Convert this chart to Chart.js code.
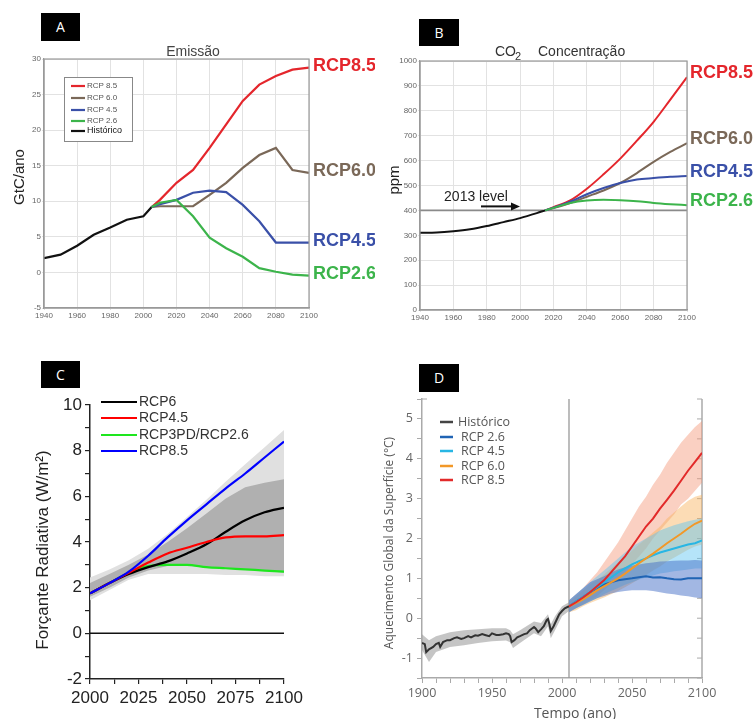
<!DOCTYPE html>
<html>
<head>
<meta charset="utf-8">
<script src="https://cdn.jsdelivr.net/npm/chart.js@4.4.1/dist/chart.umd.min.js"></script>
<style>
body { margin: 0; background: #fff; width: 755px; height: 719px; overflow: hidden; position: relative; }
canvas { position: absolute; }
.tag { position: absolute; background: #000; color: #fff; font: 14px "Open Sans", sans-serif; text-align: center; }
</style>
</head>
<body>
<canvas id="cA" width="375" height="330" style="left:0;top:0"></canvas>
<canvas id="cB" width="380" height="330" style="left:375px;top:0"></canvas>
<canvas id="cC" width="375" height="389" style="left:0;top:330px"></canvas>
<canvas id="cD" width="380" height="389" style="left:375px;top:330px"></canvas>
<div class="tag" style="left:41px;top:13px;width:39px;height:28px;line-height:28px">A</div>
<div class="tag" style="left:419px;top:19px;width:40px;height:27px;line-height:27px">B</div>
<div class="tag" style="left:41px;top:361px;width:39px;height:27px;line-height:27px">C</div>
<div class="tag" style="left:419px;top:364px;width:40px;height:28px;line-height:28px">D</div>
<script>
// ---- A: emissao (GtC/ano)
const histYearsA = [1940, 1950, 1960, 1970, 1980, 1990, 2000, 2005];
const histA = [2.0, 2.5, 3.75, 5.3, 6.3, 7.4, 7.9, 9.2];
const futYearsA = [2005, 2010, 2020, 2030, 2040, 2050, 2060, 2070, 2080, 2090, 2100];
const rcp85A = [9.2, 10.2, 12.6, 14.4, 17.5, 20.8, 24.1, 26.4, 27.6, 28.5, 28.8];
const rcp60A = [9.2, 9.3, 9.3, 9.3, 10.9, 12.6, 14.7, 16.5, 17.5, 14.4, 14.0];
const rcp45A = [9.2, 9.6, 10.2, 11.2, 11.5, 11.3, 9.5, 7.2, 4.2, 4.2, 4.2];
const rcp26A = [9.2, 9.8, 10.2, 7.9, 4.9, 3.4, 2.2, 0.6, 0.1, -0.3, -0.45];

// ---- B: concentracao CO2 (ppm)
const histYearsB = [1940, 1950, 1960, 1970, 1980, 1990, 2000, 2010, 2015];
const histB = [310, 311, 316, 324, 337, 353, 369, 389, 400];
const futYearsB = [2015, 2020, 2030, 2040, 2050, 2060, 2070, 2080, 2090, 2100];
const rcp85B = [400, 413, 440, 487, 545, 608, 680, 756, 845, 935];
const rcp60B = [400, 409, 430, 455, 480, 510, 550, 595, 635, 670];
const rcp45B = [400, 411, 435, 465, 490, 510, 524, 530, 535, 538];
const rcp26B = [400, 410, 430, 440, 443, 441, 437, 430, 425, 421];

// ---- C: forcante radiativa (W/m2)
const yearsC = [2000, 2010, 2020, 2030, 2040, 2050, 2060, 2070, 2080, 2090, 2100];
const rcp6C = [1.75, 2.2, 2.6, 2.9, 3.15, 3.5, 3.9, 4.45, 4.95, 5.3, 5.5];
const rcp45C = [1.75, 2.2, 2.65, 3.1, 3.5, 3.75, 4.0, 4.2, 4.25, 4.25, 4.3];
const rcp26C = [1.75, 2.2, 2.65, 2.95, 3.0, 3.0, 2.9, 2.85, 2.8, 2.75, 2.7];
const rcp85C = [1.75, 2.2, 2.7, 3.4, 4.2, 4.95, 5.65, 6.35, 7.0, 7.7, 8.4];
const outerHiC = [2.45, 2.8, 3.2, 3.7, 4.35, 5.1, 5.85, 6.65, 7.4, 8.15, 8.9];
const outerLoC = [1.45, 1.9, 2.35, 2.6, 2.6, 2.6, 2.6, 2.55, 2.55, 2.5, 2.5];
const innerHiC = [2.2, 2.6, 3.0, 3.45, 4.0, 4.6, 5.25, 5.9, 6.4, 6.6, 6.75];
const innerLoC = [1.6, 2.0, 2.45, 2.75, 2.95, 2.95, 2.9, 2.85, 2.8, 2.75, 2.65];

// ---- D: aquecimento global (graus C)
const histYearsD = [1900, 1902, 1903, 1905, 1908, 1910, 1912, 1913, 1915, 1918, 1920, 1923, 1925, 1928, 1930, 1933, 1935, 1938, 1940, 1943, 1945, 1948, 1950, 1953, 1955, 1958, 1960, 1962, 1963, 1964, 1966, 1968, 1970, 1973, 1975, 1977, 1980, 1981, 1983, 1985, 1987, 1989, 1990, 1991, 1992, 1994, 1996, 1998, 2000, 2002, 2005];
const histD = [-0.62, -0.65, -0.85, -0.78, -0.72, -0.65, -0.62, -0.72, -0.6, -0.55, -0.55, -0.5, -0.48, -0.52, -0.5, -0.45, -0.48, -0.43, -0.44, -0.4, -0.42, -0.45, -0.38, -0.42, -0.42, -0.4, -0.38, -0.4, -0.45, -0.6, -0.55, -0.48, -0.45, -0.4, -0.38, -0.3, -0.22, -0.25, -0.35, -0.28, -0.2, -0.05, -0.02, -0.15, -0.32, -0.2, -0.05, 0.1, 0.18, 0.25, 0.3];
const histBandYearsD = [1900, 1905, 1910, 1920, 1930, 1940, 1950, 1960, 1963, 1965, 1970, 1980, 1985, 1990, 1992, 1995, 2000, 2005];
const histHiD = [-0.4, -0.55, -0.45, -0.35, -0.3, -0.28, -0.25, -0.25, -0.3, -0.4, -0.3, -0.08, -0.12, 0.1, -0.15, 0.05, 0.3, 0.4];
const histLoD = [-0.8, -1.1, -0.85, -0.72, -0.68, -0.62, -0.58, -0.56, -0.6, -0.75, -0.62, -0.38, -0.45, -0.2, -0.5, -0.3, 0.05, 0.18];
const futYearsD = [2005, 2010, 2015, 2020, 2025, 2030, 2035, 2040, 2045, 2050, 2055, 2060, 2065, 2070, 2075, 2080, 2085, 2090, 2095, 2100];
const rcp85D = [0.3, 0.4, 0.52, 0.65, 0.8, 0.95, 1.15, 1.35, 1.55, 1.8, 2.05, 2.3, 2.5, 2.75, 2.97, 3.2, 3.45, 3.7, 3.92, 4.15];
const rcp85HiD = [0.45, 0.6, 0.75, 0.95, 1.15, 1.4, 1.65, 1.9, 2.2, 2.5, 2.8, 3.05, 3.35, 3.6, 3.9, 4.15, 4.4, 4.6, 4.8, 4.95];
const rcp85LoD = [0.15, 0.25, 0.35, 0.45, 0.55, 0.7, 0.85, 1.0, 1.15, 1.35, 1.55, 1.75, 2.0, 2.2, 2.4, 2.6, 2.85, 3.0, 3.2, 3.4];
const rcp60D = [0.3, 0.38, 0.47, 0.58, 0.7, 0.8, 0.9, 1.0, 1.12, 1.25, 1.38, 1.5, 1.62, 1.75, 1.88, 2.0, 2.12, 2.25, 2.37, 2.45];
const rcp60HiD = [0.4, 0.55, 0.7, 0.85, 0.95, 1.1, 1.25, 1.4, 1.55, 1.7, 1.85, 2.0, 2.15, 2.3, 2.5, 2.65, 2.8, 2.95, 3.05, 3.1];
const rcp60LoD = [0.15, 0.2, 0.3, 0.38, 0.45, 0.52, 0.6, 0.68, 0.78, 0.88, 0.98, 1.08, 1.2, 1.3, 1.42, 1.52, 1.62, 1.72, 1.8, 1.85];
const rcp45D = [0.3, 0.42, 0.53, 0.65, 0.78, 0.9, 1.02, 1.15, 1.25, 1.35, 1.43, 1.5, 1.58, 1.65, 1.7, 1.75, 1.8, 1.85, 1.88, 1.95];
const rcp45HiD = [0.45, 0.6, 0.75, 0.9, 1.05, 1.2, 1.35, 1.5, 1.65, 1.8, 1.9, 2.0, 2.1, 2.2, 2.27, 2.33, 2.38, 2.43, 2.47, 2.5];
const rcp45LoD = [0.15, 0.25, 0.33, 0.42, 0.5, 0.6, 0.68, 0.76, 0.84, 0.9, 0.97, 1.02, 1.07, 1.12, 1.15, 1.18, 1.2, 1.22, 1.25, 1.25];
const rcp26D = [0.3, 0.42, 0.53, 0.65, 0.75, 0.85, 0.9, 0.95, 0.98, 1.0, 1.03, 1.05, 1.02, 1.03, 1.0, 0.98, 0.97, 1.0, 1.0, 1.0];
const rcp26HiD = [0.45, 0.6, 0.75, 0.9, 0.98, 1.05, 1.15, 1.22, 1.28, 1.32, 1.35, 1.38, 1.4, 1.42, 1.43, 1.44, 1.45, 1.45, 1.46, 1.45];
const rcp26LoD = [0.15, 0.25, 0.33, 0.42, 0.5, 0.56, 0.62, 0.66, 0.68, 0.7, 0.7, 0.7, 0.68, 0.65, 0.62, 0.6, 0.57, 0.55, 0.52, 0.5];

const ARIAL = '"Liberation Sans", Arial, sans-serif';
const OPEN = '"Open Sans", sans-serif';
const RED = 'rgb(228,38,44)', BROWN = 'rgb(122,104,88)', BLUE = 'rgb(58,80,168)', GREEN = 'rgb(60,180,75)';

const pts = (xs, ys) => xs.map((x, i) => ({ x: x, y: ys[i] }));
function ln(xs, ys, color, width, order, tension) {
    return { data: pts(xs, ys), borderColor: color, borderWidth: width, pointRadius: 0, fill: false,
        order: order || 0, tension: tension || 0, cubicInterpolationMode: tension ? 'monotone' : 'default' };
}
function band(xs, ys, color, fill, order) {
    return { data: pts(xs, ys), borderWidth: 0, borderColor: 'transparent', backgroundColor: color,
        pointRadius: 0, fill: fill, order: order, tension: 0 };
}
function txt(ctx, s, x, y, font, color, align, base) {
    ctx.save();
    ctx.font = font; ctx.fillStyle = color;
    ctx.textAlign = align || 'left'; ctx.textBaseline = base || 'middle';
    ctx.fillText(s, x, y);
    ctx.restore();
}
function vtxt(ctx, s, x, y, font, color) {
    ctx.save();
    ctx.translate(x, y); ctx.rotate(-Math.PI / 2);
    ctx.font = font; ctx.fillStyle = color; ctx.textAlign = 'center'; ctx.textBaseline = 'middle';
    ctx.fillText(s, 0, 0);
    ctx.restore();
}
function seg(ctx, x1, y1, x2, y2, color, w) {
    ctx.save();
    ctx.strokeStyle = color; ctx.lineWidth = w;
    ctx.beginPath(); ctx.moveTo(x1, y1); ctx.lineTo(x2, y2); ctx.stroke();
    ctx.restore();
}
function opts(pad, scales) {
    return {
        responsive: false, animation: false, devicePixelRatio: 1,
        layout: { padding: pad },
        plugins: { legend: { display: false }, tooltip: { enabled: false } },
        scales: scales
    };
}
function endLabels(chart, list, dx, dy) {
    const ctx = chart.ctx, y = chart.scales.y, a = chart.chartArea;
    list.forEach(l => txt(ctx, l[0], a.right + dx, y.getPixelForValue(l[1]) + dy, 'bold 18px ' + ARIAL, l[2]));
}
function frame(chart, color) {
    const a = chart.chartArea, ctx = chart.ctx;
    ctx.save(); ctx.strokeStyle = color; ctx.lineWidth = 1.2;
    ctx.strokeRect(a.left, a.top, a.right - a.left, a.bottom - a.top);
    ctx.restore();
}

// small-grid axes used by A and B
function gridAxis(min, max, step, fit) {
    return {
        type: 'linear', min: min, max: max, afterFit: fit,
        ticks: { stepSize: step, autoSkip: false, maxRotation: 0, font: { size: 8, family: ARIAL }, color: '#666', padding: 1,
            callback: v => String(v) },
        grid: { color: '#e2e2e2', tickLength: 2 },
        border: { color: '#999', width: 1.2 }
    };
}

// ---------- A
new Chart(document.getElementById('cA'), {
    type: 'line',
    data: { datasets: [
        ln(futYearsA, rcp26A, GREEN, 2.2),
        ln(futYearsA, rcp45A, BLUE, 2.2),
        ln(futYearsA, rcp60A, BROWN, 2.2),
        ln(futYearsA, rcp85A, RED, 2.2),
        ln(histYearsA, histA, '#111', 2.2)
    ] },
    options: opts({ left: 0, top: 59, right: 66, bottom: 6 }, {
        x: gridAxis(1940, 2100, 20, s => { s.height = 16; }),
        y: gridAxis(-5, 30, 5, s => { s.width = 44; })
    }),
    plugins: [{
        id: 'extrasA',
        afterDraw(chart) {
            const ctx = chart.ctx;
            frame(chart, '#9a9a9a');
            txt(ctx, 'Emissão', 193, 52, '14px ' + ARIAL, '#444', 'center');
            vtxt(ctx, 'GtC/ano', 20, 177, '15px ' + ARIAL, '#222');
            endLabels(chart, [['RCP8.5', rcp85A[10], RED], ['RCP6.0', rcp60A[10], BROWN],
                ['RCP4.5', rcp45A[10], BLUE], ['RCP2.6', rcp26A[10], GREEN]], 4, -2);
            ctx.save();
            ctx.fillStyle = '#fff'; ctx.strokeStyle = '#888'; ctx.lineWidth = 1;
            ctx.fillRect(64, 77, 68, 64); ctx.strokeRect(64.5, 77.5, 68, 64);
            ctx.restore();
            const items = [['RCP 8.5', RED, 86], ['RCP 6.0', BROWN, 98], ['RCP 4.5', BLUE, 110], ['RCP 2.6', GREEN, 121], ['Histórico', '#111', 131]];
            items.forEach((it, i) => {
                seg(ctx, 71, it[2], 85, it[2], it[1], 2.2);
                txt(ctx, it[0], 87, it[2], (i === 4 ? '9px ' : '8px ') + ARIAL, i === 4 ? '#111' : '#555');
            });
        }
    }]
});

// ---------- B
new Chart(document.getElementById('cB'), {
    type: 'line',
    data: { datasets: [
        ln(futYearsB, rcp26B, GREEN, 2, 0, 0.4),
        ln(futYearsB, rcp45B, BLUE, 2, 0, 0.4),
        ln(futYearsB, rcp60B, BROWN, 2, 0, 0.4),
        ln(futYearsB, rcp85B, RED, 2, 0, 0.4),
        ln(histYearsB, histB, '#111', 2, 0, 0.4)
    ] },
    options: opts({ left: 0, top: 61, right: 68, bottom: 4 }, {
        x: gridAxis(1940, 2100, 20, s => { s.height = 16; }),
        y: gridAxis(0, 1000, 100, s => { s.width = 45; })
    }),
    plugins: [{
        id: 'extrasB',
        beforeDatasetsDraw(chart) {
            const a = chart.chartArea, y = chart.scales.y.getPixelForValue(400);
            seg(chart.ctx, a.left, y, a.right, y, '#8a8a8a', 1.6);
        },
        afterDraw(chart) {
            const ctx = chart.ctx;
            frame(chart, '#9a9a9a');
            txt(ctx, 'CO', 120, 52, '14px ' + ARIAL, '#333');
            txt(ctx, '2', 140, 57, '11px ' + ARIAL, '#333');
            txt(ctx, 'Concentração', 163, 52, '14px ' + ARIAL, '#333');
            vtxt(ctx, 'ppm', 20, 180, '15px ' + ARIAL, '#222');
            const y4 = chart.scales.y.getPixelForValue(400);
            txt(ctx, '2013 level', 101, y4 - 13, '14px ' + ARIAL, '#222', 'center');
            seg(ctx, 106, y4 - 4, 138, y4 - 4, '#111', 2);
            ctx.save(); ctx.fillStyle = '#111';
            ctx.beginPath(); ctx.moveTo(145, y4 - 4); ctx.lineTo(136, y4 - 8); ctx.lineTo(136, y4); ctx.closePath(); ctx.fill();
            ctx.restore();
            endLabels(chart, [['RCP8.5', rcp85B[9], RED], ['RCP6.0', rcp60B[9], BROWN],
                ['RCP4.5', rcp45B[9], BLUE], ['RCP2.6', rcp26B[9], GREEN]], 3, -4);
        }
    }]
});

// ---------- C
new Chart(document.getElementById('cC'), {
    type: 'line',
    data: { datasets: [
        band(yearsC, outerHiC, 'rgb(224,224,224)', '+1', 20),
        band(yearsC, outerLoC, 'transparent', false, 20),
        band(yearsC, innerHiC, 'rgb(176,176,176)', '+1', 10),
        band(yearsC, innerLoC, 'transparent', false, 10),
        ln(yearsC, rcp26C, 'rgb(30,230,30)', 2.2, 3, 0.4),
        ln(yearsC, rcp6C, '#000', 2.2, 2, 0.4),
        ln(yearsC, rcp45C, '#ff0000', 2.2, 1, 0.4),
        ln(yearsC, rcp85C, '#0000ff', 2.2, 0, 0.4)
    ] },
    options: opts({ left: 0, top: 75, right: 91, bottom: 0 }, {
        x: {
            type: 'linear', min: 2000, max: 2100, afterFit: s => { s.height = 40; },
            ticks: { stepSize: 12.5, autoSkip: false, maxRotation: 0, font: { size: 17, family: ARIAL }, color: '#222', padding: 4,
                callback: v => (v % 25 === 0 ? String(v) : '') },
            grid: { drawOnChartArea: false, color: '#222', tickLength: 5, lineWidth: 1.2 },
            border: { color: '#222', width: 1.5 }
        },
        y: {
            min: -2, max: 10, afterFit: s => { s.width = 90; },
            ticks: { stepSize: 1, autoSkip: false, font: { size: 17, family: ARIAL }, color: '#222', padding: 3,
                callback: v => (v % 2 === 0 ? String(v) : '') },
            grid: { drawOnChartArea: false, color: '#222', tickLength: 5, lineWidth: 1.2 },
            border: { color: '#222', width: 1.5 }
        }
    }),
    plugins: [{
        id: 'extrasC',
        afterDatasetsDraw(chart) {
            const a = chart.chartArea, y0 = chart.scales.y.getPixelForValue(0);
            seg(chart.ctx, a.left, y0, a.right, y0, '#111', 1.5);
        },
        afterDraw(chart) {
            const ctx = chart.ctx;
            vtxt(ctx, 'Forçante Radiativa (W/m²)', 43, 220, '17px ' + ARIAL, '#222');
            const items = [['RCP6', '#000', 72], ['RCP4.5', '#ff0000', 88], ['RCP3PD/RCP2.6', 'rgb(30,230,30)', 105], ['RCP8.5', '#0000ff', 121]];
            items.forEach(it => {
                seg(ctx, 101, it[2], 137, it[2], it[1], 2.2);
                txt(ctx, it[0], 139, it[2], '14px ' + ARIAL, '#333');
            });
        }
    }]
});

// ---------- D
const C26 = 'rgb(32,100,180)', C45 = 'rgb(40,182,228)', C60 = 'rgb(242,152,40)', C85 = 'rgb(226,42,42)';
new Chart(document.getElementById('cD'), {
    type: 'line',
    data: { datasets: [
        band(histBandYearsD, histHiD, 'rgba(150,150,150,0.55)', '+1', 10),
        band(histBandYearsD, histLoD, 'transparent', false, 10),
        band(futYearsD, rcp26HiD, 'rgba(70,112,200,0.5)', '+1', 10),
        band(futYearsD, rcp26LoD, 'transparent', false, 10),
        band(futYearsD, rcp45HiD, 'rgba(90,195,242,0.45)', '+1', 10),
        band(futYearsD, rcp45LoD, 'transparent', false, 10),
        band(futYearsD, rcp60HiD, 'rgba(248,178,90,0.45)', '+1', 10),
        band(futYearsD, rcp60LoD, 'transparent', false, 10),
        band(futYearsD, rcp85HiD, 'rgba(244,150,120,0.45)', '+1', 10),
        band(futYearsD, rcp85LoD, 'transparent', false, 10),
        ln(histYearsD, histD, '#333', 2, 4),
        ln(futYearsD, rcp26D, C26, 2, 3),
        ln(futYearsD, rcp45D, C45, 2, 2),
        ln(futYearsD, rcp60D, C60, 2, 1),
        ln(futYearsD, rcp85D, C85, 2, 0)
    ] },
    options: opts({ left: 0, top: 69, right: 53, bottom: 0 }, {
        x: {
            type: 'linear', min: 1900, max: 2100, afterFit: s => { s.height = 41; },
            ticks: { stepSize: 10, autoSkip: false, maxRotation: 0, font: { size: 12.5, family: OPEN }, color: '#666', padding: 3,
                callback: v => (v % 50 === 0 ? String(v) : '') },
            grid: { drawOnChartArea: false, color: '#aaa', tickLength: 5 },
            border: { color: '#aaa', width: 1.5 }
        },
        y: {
            min: -1.5, max: 5.5, afterFit: s => { s.width = 47; },
            ticks: { stepSize: 0.5, autoSkip: false, font: { size: 12.5, family: OPEN }, color: '#666', padding: 4,
                callback: v => (Number.isInteger(v) ? String(v) : '') },
            grid: { drawOnChartArea: false, color: '#aaa', tickLength: 5 },
            border: { color: '#aaa', width: 1.5 }
        }
    }),
    plugins: [{
        id: 'extrasD',
        beforeDatasetsDraw(chart) {
            const a = chart.chartArea, ctx = chart.ctx;
            const x5 = chart.scales.x.getPixelForValue(2005);
            seg(ctx, x5, a.top, x5, a.bottom, '#999', 1.3);
            seg(ctx, a.right, a.top, a.right, a.bottom, '#aaa', 1.5);
            chart.scales.y.ticks.forEach(t => {
                const y = chart.scales.y.getPixelForValue(t.value);
                seg(ctx, a.right - 5, y, a.right, y, '#aaa', 1);
            });
            seg(ctx, a.left, a.top, a.left + 5, a.top, '#aaa', 1);
        },
        afterDraw(chart) {
            const ctx = chart.ctx;
            vtxt(ctx, 'Aquecimento Global da Superfície (°C)', 15, 213, '12px ' + OPEN, '#555');
            txt(ctx, 'Tempo (ano)', 200, 384, '14px ' + OPEN, '#555', 'center');
            const items = [['Histórico', '#444', 92], ['RCP 2.6', C26, 107], ['RCP 4.5', C45, 121], ['RCP 6.0', C60, 136], ['RCP 8.5', C85, 150]];
            items.forEach((it, i) => {
                seg(ctx, 65, it[2], 78, it[2], it[1], 2.5);
                txt(ctx, it[0], i === 0 ? 83 : 86, it[2], '12.5px ' + OPEN, '#555');
            });
        }
    }]
});
</script>
</body>
</html>
